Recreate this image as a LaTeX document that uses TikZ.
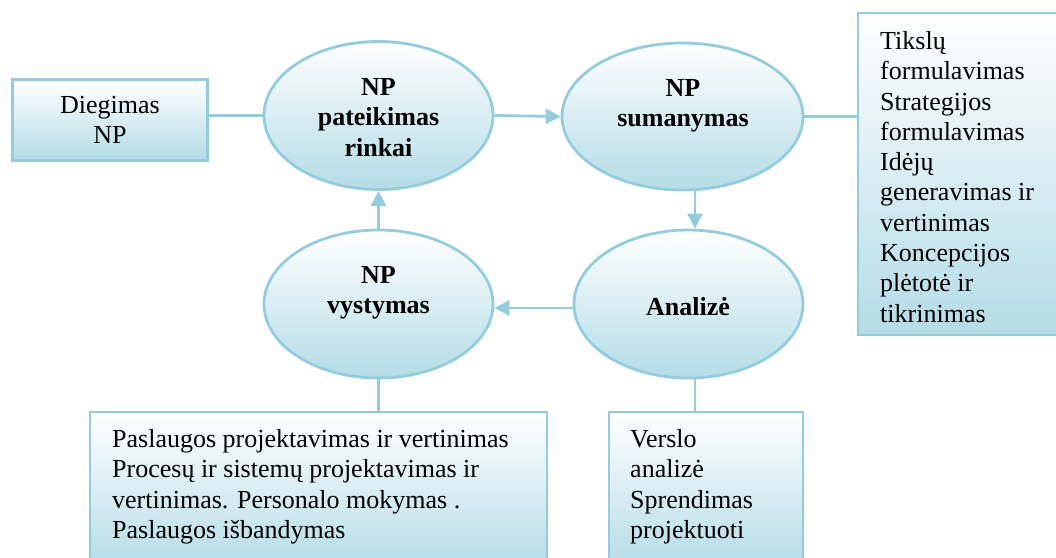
\documentclass[tikz,border=0pt]{standalone}
\usepackage{fontspec}
\setmainfont{Liberation Serif}
\usetikzlibrary{shapes.geometric,arrows.meta}
\definecolor{bordc}{RGB}{147,205,221}
\definecolor{fillc}{RGB}{180,220,231}
\begin{document}
\begin{tikzpicture}[x=1pt,y=-1pt,
 every node/.style={font=\fontsize{26}{30.3}\selectfont},
 shapebox/.style={draw=bordc, line width=2.8pt, top color=white, bottom color=fillc, rectangle, inner sep=0pt},
 oval/.style={ellipse, draw=bordc, line width=2.8pt, top color=white, bottom color=fillc, inner sep=0pt},
 btxt/.style={font=\fontsize{26}{30.3}\selectfont\bfseries, align=center, inner sep=0pt, anchor=north},
 ltxt/.style={align=left, inner sep=0pt, anchor=north west},
 conn/.style={draw=bordc, line width=2.8pt},
 arr/.style={conn, -{Triangle[length=15pt,width=15pt]}}
]
\useasboundingbox (0,0) rectangle (1056,557);
% boxes
\node[shapebox, minimum width=195pt, minimum height=81pt, align=center] (d) at (110,120) {Diegimas\\NP};
\node[shapebox, minimum width=212pt, minimum height=322pt] (rb) at (964,174) {};
\node[shapebox, minimum width=457pt, minimum height=158pt] (bl) at (318.5,491) {};
\node[shapebox, minimum width=194pt, minimum height=158pt] (br) at (706,491) {};
% ellipses
\node[oval, minimum width=229pt, minimum height=148pt] (e1) at (378.5,115.5) {};
\node[oval, minimum width=241pt, minimum height=147pt] (e2) at (682.5,116.5) {};
\node[oval, minimum width=229pt, minimum height=148pt] (e3) at (688.5,304) {};
\node[oval, minimum width=229pt, minimum height=148pt] (e4) at (378.5,304) {};
% texts
\node[btxt] (t1) at (378.5,78.4) {NP\\pateikimas\\rinkai};
\node[btxt] (t2) at (683,79.4) {NP\\sumanymas};
\node[btxt] (t3) at (688,297.4) {Analizė};
\node[btxt] (t4) at (378.5,266.4) {NP\\vystymas};
\node[ltxt] (rt) at (880,31.2) {Tikslų\\formulavimas\\Strategijos\\formulavimas\\Idėjų\\generavimas ir\\vertinimas\\Koncepcijos\\plėtotė ir\\tikrinimas};
\node[ltxt] (blt) at (112,429.2) {Paslaugos projektavimas ir vertinimas\\Procesų ir sistemų projektavimas ir\\vertinimas. Personalo mokymas .\\Paslaugos išbandymas};
\node[ltxt] (brt) at (630,429.2) {Verslo\\analizė\\Sprendimas\\projektuoti};
% connectors
\draw[conn] (e1.west -| d.east) -- (e1.west);
\draw[arr] (e1.east) -- (e2.west);
\draw[conn] (e2.east) -- (e2.east -| rb.west);
\draw[arr] ([xshift=12.5pt]e2.south) -- ([xshift=6.5pt]e3.north);
\draw[arr] ([yshift=-4pt]e3.west) -- ([yshift=-4pt]e4.east);
\draw[arr] (e4.north) -- (e1.south);
\draw[conn] (e4.south) -- (e4.south |- bl.north);
\draw[conn] ([xshift=6.5pt]e3.south) -- ([xshift=6.5pt]e3.south |- br.north);
\end{tikzpicture}
\end{document}
